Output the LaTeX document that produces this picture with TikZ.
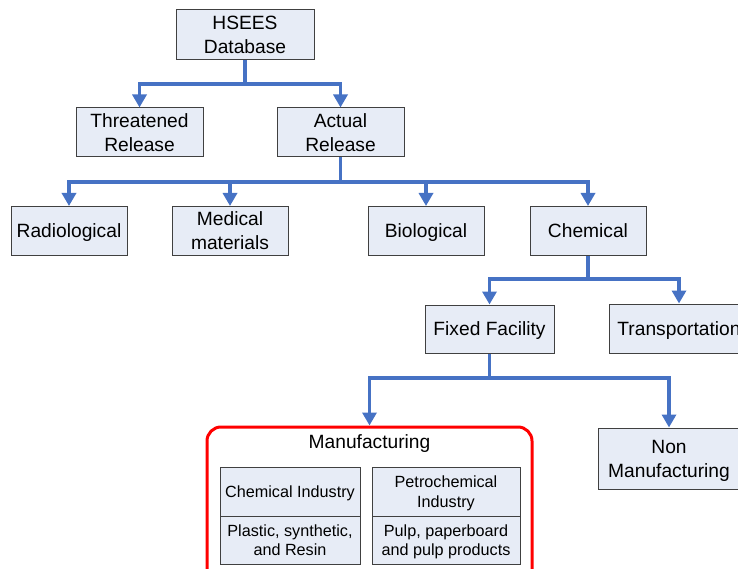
\documentclass[tikz,border=0pt]{standalone}
\usepackage{fontspec}
\setmainfont{Liberation Sans}
\usetikzlibrary{arrows.meta}
\definecolor{boxfill}{RGB}{231,236,246}
\definecolor{boxline}{RGB}{64,64,64}
\definecolor{linkblue}{RGB}{70,114,196}
\definecolor{framered}{RGB}{255,0,0}
\begin{document}
\begin{tikzpicture}[x=1pt,y=-1pt,
  box/.style={draw=boxline, fill=boxfill, line width=1pt, inner sep=0pt,
    text depth=0pt, align=center, font=\fontsize{19.2}{24}\selectfont},
  smallbox/.style={box, font=\fontsize{16.2}{19.5}\selectfont},
  conn/.style={draw=linkblue, line width=3.5pt,
    -{Triangle[length=13pt,width=14pt]}},
  frame/.style={draw=framered, line width=3pt, rounded corners=14pt,
    inner sep=0pt},
]
\useasboundingbox (0,0) rectangle (738,569);
\clip (0,0) rectangle (738,569);

% top levels
\node[box, minimum width=138pt, minimum height=50pt] (hsees) at (245,35) {HSEES\\Database};
\node[box, minimum width=127pt, minimum height=49pt] (threat) at (139.5,132.5) {Threatened\\Release};
\node[box, minimum width=127pt, minimum height=49pt] (actual) at (340.5,132.5) {Actual\\Release};

% release categories
\node[box, minimum width=116pt, minimum height=49pt] (radio) at (69,231) {Radiological};
\node[box, minimum width=116pt, minimum height=49pt] (medical) at (230,231) {Medical\\materials};
\node[box, minimum width=116pt, minimum height=49pt] (bio) at (426,231) {Biological};
\node[box, minimum width=116pt, minimum height=49pt] (chem) at (588,231) {Chemical};

% chemical branch
\node[box, minimum width=129pt, minimum height=48pt] (fixed) at (489.5,329) {Fixed Facility};
\node[box, minimum width=140pt, minimum height=49pt] (transp) at (679,328.5) {Transportation};

% fixed facility branch
\node[frame, minimum width=325pt, minimum height=170pt] (manuf) at (369.5,512) {};
\node[anchor=base, inner sep=0pt, font=\fontsize{19.2}{24}\selectfont] (mlabel) at (369.5,448) {Manufacturing};
\node[box, minimum width=142pt, minimum height=61pt] (nonman) at (669,458.5) {Non\\Manufacturing};

% industries inside the manufacturing frame
\node[smallbox, minimum width=140pt, minimum height=49pt] (chemind) at (290,491.5) {Chemical Industry};
\node[smallbox, minimum width=140pt, minimum height=48pt] (plastic) at (290,540) {Plastic, synthetic,\\and Resin};
\node[smallbox, minimum width=148pt, minimum height=49pt] (petro) at (446,491.5) {Petrochemical\\Industry};
\node[smallbox, minimum width=148pt, minimum height=48pt] (pulp) at (446,540) {Pulp, paperboard\\and pulp products};

% connectors
\coordinate (j1) at (245,84);
\draw[conn] (hsees.south) -- (j1) -| (threat.north);
\draw[conn] (j1) -| (actual.north);

\coordinate (j2) at (340.5,182);
\draw[conn] (actual.south) -- (j2) -| (radio.north);
\draw[conn] (j2) -| (medical.north);
\draw[conn] (j2) -| (bio.north);
\draw[conn] (j2) -| (chem.north);

\coordinate (j3) at (588,279);
\draw[conn] (chem.south) -- (j3) -| (fixed.north);
\draw[conn] (j3) -| (transp.north);

\coordinate (j4) at (489.5,378);
\draw[conn] (fixed.south) -- (j4) -| (manuf.north);
\draw[conn] (j4) -| (nonman.north);
\end{tikzpicture}
\end{document}
